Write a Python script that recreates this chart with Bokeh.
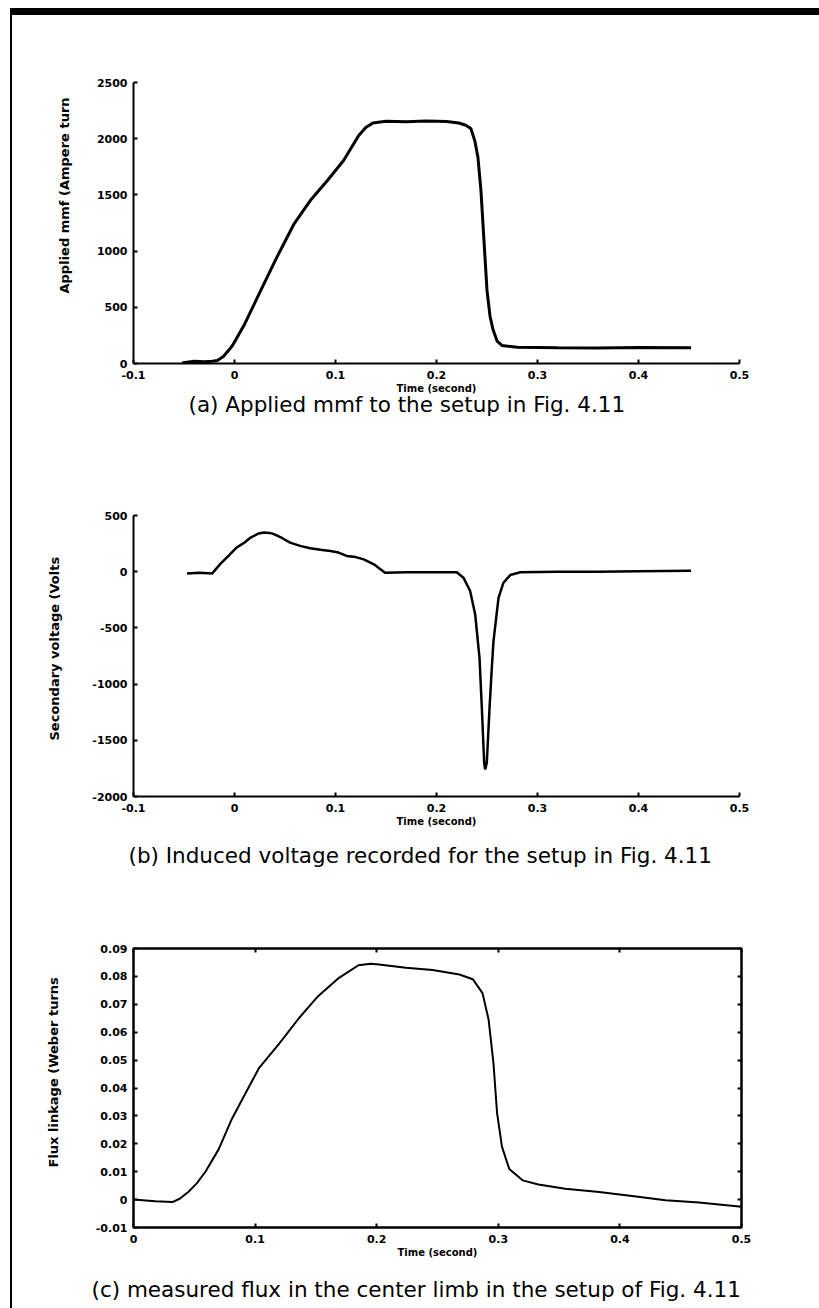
from bokeh.plotting import figure
from bokeh.models import Range1d, FixedTicker, LinearAxis, Title
from bokeh.layouts import column
from bokeh.embed import file_html
from bokeh.resources import INLINE

# ---------------- data ----------------
# (a) applied mmf, Ampere turn
t_a = [-0.052, -0.040, -0.030, -0.022, -0.017, -0.011, -0.006, -0.002, 0.010,
       0.026, 0.042, 0.059, 0.075, 0.092, 0.108, 0.123, 0.130, 0.137, 0.150,
       0.170, 0.190, 0.210, 0.222, 0.229, 0.234, 0.238, 0.241, 0.244, 0.247,
       0.250, 0.253, 0.256, 0.260, 0.265, 0.280, 0.320, 0.360, 0.400, 0.452]
mmf_a = [5, 20, 15, 20, 27, 62, 115, 160, 350,
         650, 946, 1243, 1450, 1628, 1806, 2028, 2100, 2140, 2155,
         2150, 2158, 2152, 2140, 2120, 2090, 1980, 1836, 1540, 1094,
         650, 420, 300, 200, 160, 145, 140, 138, 142, 140]

# (b) induced secondary voltage, Volts
t_b = [-0.047, -0.035, -0.022, -0.014, -0.005, 0.002, 0.010, 0.016, 0.024,
       0.029, 0.035, 0.039, 0.047, 0.055, 0.065, 0.075, 0.085, 0.095, 0.103,
       0.111, 0.120, 0.128, 0.138, 0.149, 0.170, 0.200, 0.220, 0.2267, 0.2333,
       0.2383, 0.2426, 0.2449, 0.2472, 0.2482, 0.2498, 0.2525, 0.2548, 0.2564,
       0.2614, 0.2663, 0.273, 0.283, 0.320, 0.360, 0.400, 0.452]
volt_b = [-15, -10, -15, 70, 150, 214, 260, 304, 340,
          348, 345, 334, 300, 259, 230, 209, 195, 185, 170,
          140, 130, 110, 66, -9, -5, -5, -5, -53, -172,
          -380, -768, -1214, -1700, -1760, -1700, -1214, -850, -619,
          -232, -98, -30, -5, 0, 0, 5, 8]

# (c) flux linkage in the centre limb, Weber turns
t_c = [0.000, 0.010, 0.018, 0.032, 0.038, 0.045, 0.052, 0.059, 0.070, 0.081,
       0.092, 0.103, 0.120, 0.136, 0.152, 0.169, 0.185, 0.195, 0.202, 0.224,
       0.246, 0.268, 0.279, 0.287, 0.292, 0.296, 0.299, 0.303, 0.309, 0.320,
       0.333, 0.355, 0.383, 0.410, 0.4375, 0.465, 0.500]
flux_c = [0.0000, -0.0003, -0.0006, -0.0009, 0.0003, 0.0027, 0.0058, 0.0099,
          0.0180, 0.0290, 0.0380, 0.0470, 0.0560, 0.0650, 0.0730, 0.0795,
          0.0840, 0.0845, 0.0843, 0.0831, 0.0823, 0.0807, 0.0790, 0.0740,
          0.0646, 0.0490, 0.0310, 0.0190, 0.0110, 0.0069, 0.0054, 0.0039,
          0.0027, 0.0013, -0.0002, -0.0010, -0.0026]

# ticks and tick labels
x_ticks_ab = [-0.1, 0.0, 0.1, 0.2, 0.3, 0.4, 0.5]
x_labels_ab = ["-0.1", "0", "0.1", "0.2", "0.3", "0.4", "0.5"]
y_ticks_a = [0, 500, 1000, 1500, 2000, 2500]
y_labels_a = ["0", "500", "1000", "1500", "2000", "2500"]
y_ticks_b = [-2000, -1500, -1000, -500, 0, 500]
y_labels_b = ["-2000", "-1500", "-1000", "-500", "0", "500"]
x_ticks_c = [0.0, 0.1, 0.2, 0.3, 0.4, 0.5]
x_labels_c = ["0", "0.1", "0.2", "0.3", "0.4", "0.5"]
y_ticks_c = [-0.01, 0.0, 0.01, 0.02, 0.03, 0.04, 0.05, 0.06, 0.07, 0.08, 0.09]
y_labels_c = ["-0.01", "0", "0.01", "0.02", "0.03", "0.04", "0.05", "0.06",
              "0.07", "0.08", "0.09"]

x_title = "Time (second)"
y_title_a = "Applied mmf (Ampere turn"
y_title_b = "Secondary voltage (Volts"
y_title_c = "Flux linkage (Weber turns"
caption_a = "(a) Applied mmf to the setup in Fig. 4.11"
caption_b = "(b) Induced voltage recorded for the setup in Fig. 4.11"
caption_c = "(c)  measured flux in the center limb in the setup of Fig. 4.11"

# ---------------- styling / layout ----------------
PAGE_W = 819
OX = 12          # page margin + left rule
OY = 15          # page margin + top rule
W = PAGE_W - OX
TICK_FONT = "DejaVu Sans"
CAP_FONT = "DejaVu Sans"


def panel(c_top, c_bot, L, R, T, B, xr, yr, xticks, xlabels, yticks, ylabels,
          ytitle, ytitle_bottom, ytitle_standoff, caption, cap_left, cap_standoff,
          cap_valign="bottom", box=False):
    """All L,R,T,B positions are page pixels; converted to this canvas."""
    height = c_bot - c_top
    L, R = L - OX, R - OX
    T, B = T - c_top, B - c_top
    p = figure(frame_width=R - L, frame_height=B - T,
               min_border_left=L, min_border_right=W - R,
               min_border_top=T, min_border_bottom=height - B,
               x_range=Range1d(*xr), y_range=Range1d(*yr),
               output_backend="svg", toolbar_location=None,
               background_fill_color="white", border_fill_color="white")
    p.grid.visible = False
    p.outline_line_color = "black" if box else None
    p.outline_line_width = 2
    for ax in (p.xaxis[0], p.yaxis[0]):
        ax.axis_line_width = 2
        ax.axis_line_color = "black"
        ax.major_tick_in = 4
        ax.major_tick_out = 0
        ax.major_tick_line_width = 2
        ax.minor_tick_line_color = None
        ax.major_label_text_font = TICK_FONT
        ax.major_label_text_font_style = "bold"
        ax.major_label_text_font_size = "11px"
        ax.major_label_text_color = "black"
    xa, ya = p.xaxis[0], p.yaxis[0]
    xa.ticker = FixedTicker(ticks=xticks)
    xa.major_label_overrides = {k: v for k, v in zip(xticks, xlabels)}
    xa.major_label_standoff = 7
    xa.axis_label = x_title
    xa.axis_label_text_font = TICK_FONT
    xa.axis_label_text_font_style = "bold"
    xa.axis_label_text_font_size = "10px"
    xa.axis_label_text_color = "black"
    xa.axis_label_standoff = 1
    xa.axis_label_text_line_height = 0.9
    ya.ticker = FixedTicker(ticks=yticks)
    ya.major_label_overrides = {k: v for k, v in zip(yticks, ylabels)}
    ya.major_label_standoff = 6

    # rotated y title, bottom-anchored like the truncated original
    frame_bottom_page = B + c_top
    p.add_layout(Title(text=ytitle, align="left", offset=frame_bottom_page - ytitle_bottom,
                       text_font=TICK_FONT, text_font_style="bold",
                       text_font_size="13px", text_color="black",
                       standoff=ytitle_standoff), "left")
    # figure caption below the panel
    p.add_layout(Title(text=caption, align="left", offset=cap_left - (L + OX),
                       text_font=CAP_FONT, text_font_style="normal",
                       text_font_size="21.5px", text_color="black",
                       vertical_align=cap_valign,
                       standoff=cap_standoff), "below")
    return p


# (a)
pa = panel(OY, 440, 133, 739, 82, 363, (-0.1, 0.5), (0, 2500),
           x_ticks_ab, x_labels_ab, y_ticks_a, y_labels_a,
           y_title_a, 293, 43, caption_a, 188, -10, cap_valign="top")
pa.line(t_a, mmf_a, line_color="black", line_width=3)

# (b)
pb = panel(440, 880, 131, 737, 515, 796, (-0.1, 0.5), (-2000, 500),
           x_ticks_ab, x_labels_ab, y_ticks_b, y_labels_b,
           y_title_b, 740, 55, caption_b, 126, 23)
pb.line(t_b, volt_b, line_color="black", line_width=2.5)

# (c)
pc = panel(880, 1308, 128, 736, 948, 1227, (0.0, 0.5), (-0.01, 0.09),
           x_ticks_c, x_labels_c, y_ticks_c, y_labels_c,
           y_title_c, 1167, 63, caption_c, 86, 28, box=True)
pc.line(t_c, flux_c, line_color="black", line_width=2)
for side, ticks in (("right", y_ticks_c), ("above", x_ticks_c)):
    ax = LinearAxis(ticker=FixedTicker(ticks=[], minor_ticks=ticks), axis_line_width=2,
                    major_tick_line_color=None, minor_tick_in=4, minor_tick_out=0,
                    minor_tick_line_width=2, minor_tick_line_color="black")
    pc.add_layout(ax, side)

layout = column(pa, pb, pc, spacing=0, margin=(8, 0, 0, 10),
                styles={"border-left": "2px solid black", "border-top": "7px solid black"})
open("out.html", "w").write(file_html(layout, INLINE))
